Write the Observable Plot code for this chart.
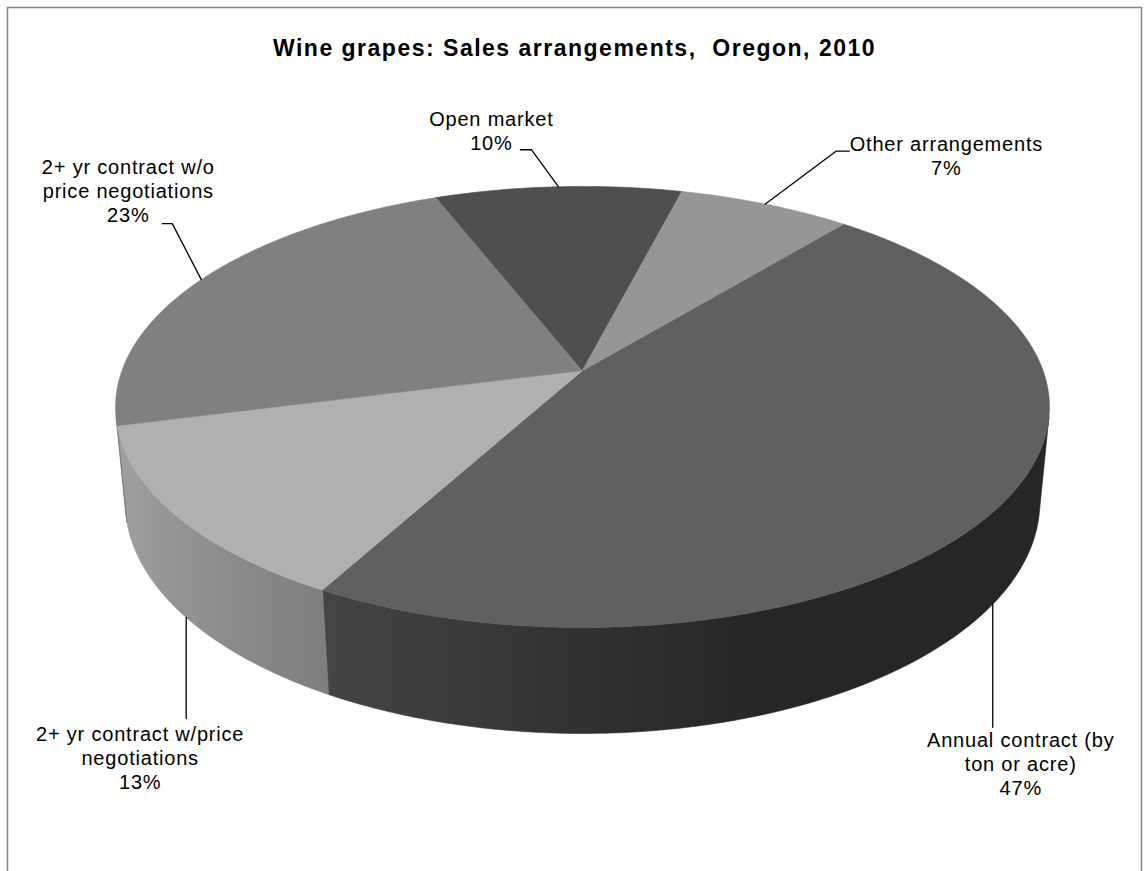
<!DOCTYPE html>
<html><head><meta charset="utf-8">
<script src="https://cdn.jsdelivr.net/npm/d3@7"></script>
<script src="https://cdn.jsdelivr.net/npm/@observablehq/plot@0.6"></script>
<style>
body{margin:0;background:#fff;overflow:hidden;}
#chart g.lbl text{letter-spacing:0.8px;}
#chart g.ttl text{letter-spacing:1.5px;}
</style>
</head><body><div id="chart"></div>
<script>
// ---- data ----
const title = "Wine grapes: Sales arrangements,  Oregon, 2010";
const categories = ["Annual contract (by ton or acre)", "2+ yr contract w/price negotiations", "2+ yr contract w/o price negotiations", "Open market", "Other arrangements"];
const values = [47, 13, 23, 10, 7];
const labelLines = ["Annual contract (by\nton or acre)", "2+ yr contract w/price\nnegotiations", "2+ yr contract w/o\nprice negotiations", "Open market", "Other arrangements"];
const topColors = ["#606060", "#b0b0b0", "#808080", "#4f4f4f", "#969696"];

// ---- layout / styling (not data) ----
const W = 1148, H = 871;
const cam = {cx: 582, cy: 370, s: 460.5, D: 5.35, sinP: 0.4658, thick: 0.2353, startDeg: 39.7};
cam.cosP = Math.sqrt(1 - cam.sinP ** 2);
const labelLayout = [
  {anchor: "bottom", leader: [[0, 123]], text: [28, 159]},
  {anchor: "bottom", leader: [[0, 101]], text: [-46, 140]},
  {anchor: "top", leader: [[-29, -56], [-39, -56]], text: [-73, -89]},
  {anchor: "top", leader: [[-27, -37], [-38, -37]], text: [-67, -56.5]},
  {anchor: "top", leader: [[71, -53], [84, -53]], text: [181, -48.5]}
];

function project(u, v, h) {
  const y = h * cam.cosP + v * cam.sinP;
  const z = cam.D + v * cam.cosP - h * cam.sinP;
  return [cam.cx + cam.s * cam.D * u / z, cam.cy - cam.s * cam.D * y / z];
}
const rad = d => d * Math.PI / 180;
const edge = (deg, h) => project(Math.sin(rad(deg)), Math.cos(rad(deg)), h);
const shade = (c, f) => { const r = d3.rgb(c); return d3.rgb(r.r * f, r.g * f, r.b * f).formatHex(); };
const sideFactor = deg => Math.max(0.40, 0.52 - 0.40 * Math.sin(rad(deg)));

const total = d3.sum(values);
let acc = cam.startDeg;
const slices = values.map((v, i) => {
  const a0 = acc, a1 = acc + v / total * 360; acc = a1;
  return {i, a0, a1, mid: (a0 + a1) / 2};
});

// top faces
const topPts = [];
const [ocx, ocy] = project(0, 0, 0);
slices.forEach(sl => {
  const n = Math.max(2, Math.ceil((sl.a1 - sl.a0) / 0.5));
  topPts.push({id: "t" + sl.i, color: topColors[sl.i], x: ocx, y: ocy});
  for (let k = 0; k <= n; k++) {
    const a = sl.a0 + (sl.a1 - sl.a0) * k / n;
    const [x, y] = edge(a, 0);
    topPts.push({id: "t" + sl.i, color: topColors[sl.i], x, y});
  }
});

// side faces (visible front part of the cylinder), shaded with x-gradients
const vt = -1 / (cam.D * cam.cosP);
const aR = Math.acos(vt) * 180 / Math.PI, aL = 360 - aR;
const sidePts = [];
const gradients = [];
slices.forEach(sl => {
  const lo = Math.max(sl.a0, aR), hi = Math.min(sl.a1, aL);
  if (hi <= lo) return;
  const id = "sideGrad" + sl.i;
  const n = Math.max(2, Math.ceil((hi - lo) / 0.5));
  const ring = [];
  for (let k = 0; k <= n; k++) ring.push(edge(lo + (hi - lo) * k / n, 0));
  for (let k = n; k >= 0; k--) ring.push(edge(lo + (hi - lo) * k / n, -cam.thick));
  ring.forEach(([x, y]) => sidePts.push({id, color: `url(#${id})`, x, y}));
  const xs = ring.map(p => p[0]);
  const x0 = d3.min(xs), x1 = d3.max(xs);
  const stops = [];
  const m = 24;
  for (let k = 0; k <= m; k++) {
    const a = lo + (hi - lo) * k / m;
    const x = edge(a, -cam.thick / 2)[0];
    stops.push({offset: Math.min(1, Math.max(0, (x - x0) / (x1 - x0 || 1))), color: shade(topColors[sl.i], sideFactor(a))});
  }
  stops.sort((p, q) => p.offset - q.offset);
  gradients.push({id, x0, x1, stops});
});

// leaders and labels
const leaderPts = [];
const labels = [];
slices.forEach(sl => {
  const L = labelLayout[sl.i];
  const [ax, ay] = edge(sl.mid, L.anchor === "top" ? 0 : -cam.thick);
  leaderPts.push({id: sl.i, x: ax, y: ay});
  L.leader.forEach(([dx, dy]) => leaderPts.push({id: sl.i, x: ax + dx, y: ay + dy}));
  labels.push({x: ax + L.text[0], y: ay + L.text[1], text: labelLines[sl.i] + "\n" + values[sl.i] + "%"});
});

const defsMark = () => {
  const defs = d3.create("svg:defs");
  gradients.forEach(g => {
    const lg = defs.append("linearGradient").attr("id", g.id).attr("gradientUnits", "userSpaceOnUse")
      .attr("x1", g.x0).attr("x2", g.x1).attr("y1", 0).attr("y2", 0);
    g.stops.forEach(s => lg.append("stop").attr("offset", s.offset).attr("stop-color", s.color));
  });
  return defs.node();
};

const chart = Plot.plot({
  width: W, height: H, margin: 0,
  x: {domain: [0, W], range: [0, W], axis: null},
  y: {domain: [0, H], range: [0, H], axis: null},
  color: {type: "identity"},
  style: {fontFamily: "'Liberation Sans', Arial, sans-serif", background: "#fff"},
  marks: [
    defsMark,
    Plot.frame({stroke: "#878787", strokeWidth: 1.5, insetTop: 7, insetLeft: 7, insetRight: 7, insetBottom: -20}),
    Plot.line(sidePts, {x: "x", y: "y", z: "id", fill: "color", stroke: "color", strokeWidth: 0.6, curve: "linear-closed"}),
    Plot.line(topPts, {x: "x", y: "y", z: "id", fill: "color", stroke: "color", strokeWidth: 0.6, curve: "linear-closed"}),
    Plot.line(leaderPts, {x: "x", y: "y", z: "id", stroke: "#000", strokeWidth: 1.3}),
    Plot.text(labels, {x: "x", y: "y", text: "text", fontSize: 20, lineHeight: 1.2, lineAnchor: "middle", textAnchor: "middle", fill: "#000", className: "lbl"}),
    Plot.text([title], {frameAnchor: "top", dy: 48, lineAnchor: "middle", fontSize: 23, fontWeight: "bold", fill: "#000", className: "ttl"})
  ]
});
document.getElementById("chart").appendChild(chart);
</script>
</body></html>
